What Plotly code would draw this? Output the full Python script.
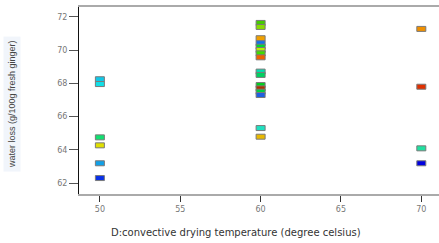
import plotly.graph_objects as go

temperature = [50, 50, 50, 50, 50, 50,
               60, 60, 60, 60, 60, 60, 60, 60, 60, 60, 60, 60, 60, 60, 60, 60,
               70, 70, 70, 70]
water_loss = [68.25, 67.96, 64.75, 64.27, 63.19, 62.30,
              71.64, 71.40, 70.72, 70.42, 70.21, 70.01, 69.81, 69.57,
              68.71, 68.51, 67.90, 67.70, 67.50, 67.30, 65.31, 64.79,
              71.28, 67.80, 64.09, 63.19]
point_colors = ["#10c8e8", "#10e0e8", "#10e070", "#e0e000", "#10a0e8", "#0830e8",
                "#44cc00", "#88dd00", "#f0a000", "#1070f0", "#00d830", "#bbee00",
                "#40dd00", "#f06000", "#00e0b0", "#00d060", "#00d020", "#b03000",
                "#00d040", "#2060e0", "#20e0c0", "#e8b800",
                "#f09000", "#e03000", "#20e0a0", "#0000e0"]
x_ticks = [50, 55, 60, 65, 70]
y_ticks = [62, 64, 66, 68, 70, 72]

fig = go.Figure()
fig.add_trace(go.Scatter(x=temperature, y=water_loss, mode="markers",
                         marker=dict(size=1, color="rgba(0,0,0,0)"),
                         showlegend=False, hoverinfo="x+y"))

for xv, yv, c in zip(temperature, water_loss, point_colors):
    fig.add_shape(type="rect", xref="x", yref="y",
                  xsizemode="pixel", ysizemode="pixel",
                  xanchor=xv, yanchor=yv,
                  x0=-4.5, x1=4.5, y0=-2.5, y1=2.5,
                  fillcolor=c, line=dict(color="#7a7a7a", width=1))

fig.update_layout(
    width=439, height=243,
    margin=dict(l=79, r=0, t=7, b=49),
    paper_bgcolor="white", plot_bgcolor="white",
    showlegend=False,
    font=dict(family="DejaVu Sans", size=8, color="#666666"),
)
fig.update_xaxes(range=[48.7, 71.1], tickvals=x_ticks,
                 ticktext=[str(v) for v in x_ticks],
                 ticks="outside", ticklen=6, tickcolor="#333333", tickwidth=1,
                 showline=True, linecolor="#aaaaaa", linewidth=2, mirror=True,
                 showgrid=False, zeroline=False,
                 tickfont=dict(family="DejaVu Sans", size=8, color="#777777"))
fig.update_yaxes(range=[61.34, 72.6], tickvals=y_ticks,
                 ticktext=[str(v) for v in y_ticks],
                 ticks="outside", ticklen=9, tickcolor="#555555", tickwidth=1,
                 showline=True, linecolor="#111111", linewidth=1, mirror=False,
                 showgrid=False, zeroline=False,
                 tickfont=dict(family="DejaVu Sans", size=8, color="#777777"))

fig.add_annotation(text="D:convective drying temperature (degree celsius)",
                   xref="paper", yref="paper", x=0.436, y=-0.205,
                   xanchor="center", yanchor="middle", showarrow=False,
                   font=dict(family="DejaVu Sans", size=10, color="#333333"))
fig.add_annotation(text="water loss (g/100g fresh ginger)",
                   xref="paper", yref="paper", x=-0.186, y=0.481,
                   xanchor="center", yanchor="middle", showarrow=False,
                   textangle=-90, bgcolor="#f1f5fb", borderpad=3,
                   font=dict(family="Liberation Sans", size=9, color="#444444"))

fig.write_html("out.html", config={"displayModeBar": False},
               post_script="document.body.style.margin='0';document.body.style.overflow='hidden';")
